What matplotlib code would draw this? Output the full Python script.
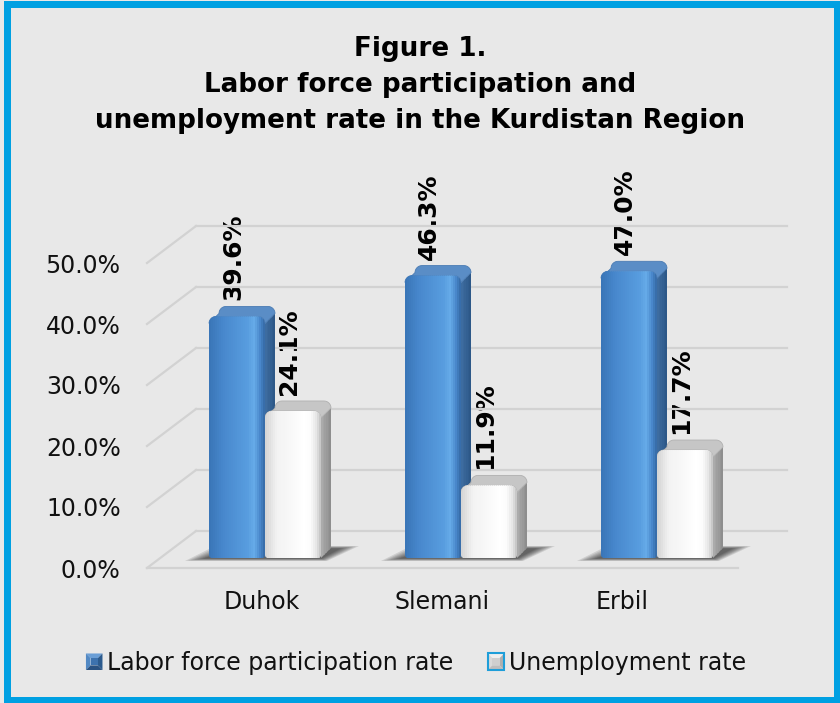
import numpy as np
import matplotlib
matplotlib.use("Agg")
import matplotlib.pyplot as plt
from matplotlib.patches import Polygon, Rectangle, Patch
from matplotlib.lines import Line2D
from matplotlib.transforms import IdentityTransform
from matplotlib.legend_handler import HandlerBase
from matplotlib.colors import to_rgb

# ---- data ----
regions = ["Duhok", "Slemani", "Erbil"]
participation = [39.6, 46.3, 47.0]
unemployment = [24.1, 11.9, 17.7]
series_names = ["Labor force participation rate", "Unemployment rate"]
y_ticks = [0, 10, 20, 30, 40, 50]
title_lines = ["Figure 1.",
               "Labor force participation and",
               "unemployment rate in the Kurdistan Region"]

# ---- canvas ----
W, H, DPI = 840, 703, 100
BG = "#E8E8E8"
fig = plt.figure(figsize=(W / DPI, H / DPI), dpi=DPI)
fig.patch.set_facecolor(BG)

# plot area: front floor edge spans 147..738 px at y=568, 6.1 px per percent
PX_GROUP = 196.0
PX_PCT = 6.1
FL, FR, FLOOR = 147, 738, 568
YMAX = 56
ax = fig.add_axes([FL / W, (H - FLOOR) / H, (FR - FL) / W, YMAX * PX_PCT / H])
xmin = -(265 - FL) / PX_GROUP
ax.set_xlim(xmin, xmin + (FR - FL) / PX_GROUP)
ax.set_ylim(0, YMAX)
ax.patch.set_visible(False)
for s in ax.spines.values():
    s.set_visible(False)
ax.set_xticks([])
ax.set_yticks(y_ticks)
ax.set_yticklabels([f"{v:.1f}%" for v in y_ticks], fontsize=17, color="#111111")
ax.tick_params(axis="y", length=0, pad=19)

ID = IdentityTransform()
T = ax.transData


def disp(x, y):
    return T.transform((x, y))


# ---- walls: back wall gridlines + side diagonals + front floor edge ----
WALL_DX, WALL_DY = 49, 37
GRID = "#D2D2D2"
xa, xb = ax.get_xlim()
for v in y_ticks:
    p0 = disp(xa, v)
    p1 = disp(xb, v)
    fig.add_artist(Line2D([p0[0] + WALL_DX, p1[0] + WALL_DX],
                          [p0[1] + WALL_DY, p0[1] + WALL_DY],
                          transform=ID, color=GRID, lw=1.6, zorder=1))
    fig.add_artist(Line2D([p0[0], p0[0] + WALL_DX], [p0[1], p0[1] + WALL_DY],
                          transform=ID, color=GRID, lw=1.6, zorder=1))
p0, p1 = disp(xa, 0), disp(xb, 0)
fig.add_artist(Line2D([p0[0], p1[0]], [p0[1], p0[1]], transform=ID,
                      color=GRID, lw=1.6, zorder=1))

# ---- 3D bars ----
BAR_W = 56 / PX_GROUP
LIFT = 10       # bar plane sits above the front floor edge
DEPTH = 10      # bar depth offset (right, up)
RAD = 7         # rounded shoulder radius


def arc(cx, cy, r, a0, a1, n=10):
    t = np.radians(np.linspace(a0, a1, n))
    return list(zip(cx + r * np.cos(t), cy + r * np.sin(t)))


def blend(stops, n):
    pos = np.array([s[0] for s in stops])
    cols = np.array([to_rgb(s[1]) for s in stops])
    u = np.linspace(0, 1, n)
    return np.stack([np.interp(u, pos, cols[:, k]) for k in range(3)], axis=1)


SCHEMES = {
    "blue": dict(front=[(0, "#3A76B8"), (0.25, "#4888CD"), (0.7, "#589DDF"),
                        (0.82, "#66ABE8"), (0.93, "#4886CA"), (1, "#386EAB")],
                 side=[(0, "#3D6CA0"), (1, "#2D5888")],
                 top="#5A8DC6", top_edge="#4A7BB3"),
    "white": dict(front=[(0, "#D6D6D6"), (0.2, "#F2F2F2"), (0.7, "#FFFFFF"),
                         (0.82, "#FCFCFC"), (0.94, "#E4E4E4"), (1, "#C8C8C8")],
                  side=[(0, "#ABABAB"), (1, "#8E8E8E")],
                  top="#C6C6C6", top_edge="#B0B0B0"),
}


def draw_shadow(xl, xr):
    X0, Yb = disp(xl, 0)
    X1, _ = disp(xr, 0)
    Yb += LIFT
    for k in range(7):
        g = 3 * k
        pts = [(X0 - 24 + g, Yb - 3 + 0.4 * k), (X1 + 6 - g * 0.3, Yb - 3 + 0.4 * k),
               (X1 + DEPTH + 28 - g, Yb + DEPTH + 2 - 0.4 * k),
               (X0 + DEPTH - 4 + g, Yb + DEPTH + 2 - 0.4 * k)]
        fig.add_artist(Polygon(pts, closed=True, transform=ID, facecolor="black",
                               edgecolor="none", alpha=0.11, zorder=2))


def draw_bar(xl, xr, v, scheme):
    sc = SCHEMES[scheme]
    X0, Yb = disp(xl, 0)
    X1, Yt = disp(xr, v)
    Yb += LIFT
    Yt += LIFT
    d, r = DEPTH, RAD
    # side face
    side = [(X1, Yb), (X1, Yt - r), (X1 + d, Yt + d - r), (X1 + d, Yb + d)]
    side_patch = Polygon(side, closed=True, transform=ID, facecolor="none",
                         edgecolor="none", zorder=3)
    fig.add_artist(side_patch)
    cols = blend(sc["side"], 6)
    for k in range(6):
        strip = Rectangle((X1 + k * d / 6, Yb - 2), d / 6 + 0.6, Yt - Yb + d + 4,
                          transform=ID, facecolor=cols[k], edgecolor="none", zorder=3)
        strip.set_clip_path(side_patch)
        fig.add_artist(strip)
    # top cap with rounded shoulders
    cap = (arc(X0 + r, Yt - r, r, 180, 90) + arc(X1 - r, Yt - r, r, 90, 0)
           + arc(X1 + d - r, Yt + d - r, r, 0, 90)
           + arc(X0 + d + r, Yt + d - r, r, 90, 180))
    fig.add_artist(Polygon(cap, closed=True, transform=ID, facecolor=sc["top"],
                           edgecolor=sc["top_edge"], lw=0.6, zorder=4))
    # front face with gradient
    front = ([(X0, Yb + 2)] + arc(X0 + r, Yt - r, r, 180, 90)
             + arc(X1 - r, Yt - r, r, 90, 0) + [(X1, Yb + 2)]
             + arc(X1 - 3, Yb + 3, 3, 0, -90) + arc(X0 + 3, Yb + 3, 3, -90, -180))
    fpatch = Polygon(front, closed=True, transform=ID, facecolor="none",
                     edgecolor="none", zorder=5)
    fig.add_artist(fpatch)
    n = 28
    cols = blend(sc["front"], n)
    wstrip = (X1 - X0) / n
    for k in range(n):
        strip = Rectangle((X0 + k * wstrip, Yb - 2), wstrip + 0.6, Yt - Yb + 4,
                          transform=ID, facecolor=cols[k], edgecolor="none", zorder=5)
        strip.set_clip_path(fpatch)
        fig.add_artist(strip)


LABEL_FONT = "DejaVu Sans"
for i in range(len(regions)):
    draw_shadow(i - BAR_W, i + BAR_W)
    for xl, xr, v, sc in [(i - BAR_W, i, participation[i], "blue"),
                          (i, i + BAR_W, unemployment[i], "white")]:
        draw_bar(xl, xr, v, sc)
        ax.annotate(f"{v:.1f}%", xy=((xl + xr) / 2, v), xytext=(-4, LIFT + 16),
                    textcoords="offset pixels", rotation=90, ha="center",
                    va="bottom", fontsize=18, fontweight="bold",
                    family=LABEL_FONT, color="black", annotation_clip=False,
                    zorder=10)

# ---- category labels (foreshortened row below the floor) ----
for i, name in enumerate(regions):
    gx = disp(i, 0)[0]
    lx = FL + (gx - FL) * 0.92 + 6
    fig.text(lx / W, (H - 602) / H, name, ha="center", va="center",
             fontsize=17, color="#111111")

# ---- title ----
for line, base in zip(title_lines, [56, 92, 128]):
    fig.text(0.5, (H - base) / H, line, ha="center", va="baseline",
             fontsize=18.8, fontweight="bold", family="DejaVu Sans", color="black")


# ---- legend with bevelled swatches ----
class BevelSwatch(HandlerBase):
    def __init__(self, top, left, right, bottom, center, edge=None):
        super().__init__()
        self.c = (top, left, right, bottom, center)
        self.edge = edge

    def create_artists(self, legend, orig_handle, xdescent, ydescent,
                       width, height, fontsize, trans):
        s = min(width, height)
        x0 = -xdescent + (width - s) / 2
        y0 = -ydescent + (height - s) / 2
        x1, y1 = x0 + s, y0 + s
        b = s * 0.28
        ix0, iy0, ix1, iy1 = x0 + b, y0 + b, x1 - b, y1 - b
        top, left, right, bottom, center = self.c
        arts = [
            Polygon([(x0, y1), (x1, y1), (ix1, iy1), (ix0, iy1)], facecolor=top),
            Polygon([(x0, y0), (x0, y1), (ix0, iy1), (ix0, iy0)], facecolor=left),
            Polygon([(x1, y0), (x1, y1), (ix1, iy1), (ix1, iy0)], facecolor=right),
            Polygon([(x0, y0), (x1, y0), (ix1, iy0), (ix0, iy0)], facecolor=bottom),
            Polygon([(ix0, iy0), (ix1, iy0), (ix1, iy1), (ix0, iy1)], facecolor=center),
        ]
        for a in arts:
            a.set_edgecolor("none")
            a.set_transform(trans)
        if self.edge is not None:
            fr = Rectangle((x0, y0), s, s, facecolor="none", edgecolor=self.edge,
                           lw=1.5, transform=trans)
            arts.append(fr)
        return arts


h_blue, h_white = Patch(), Patch()
fig.legend([h_blue, h_white], series_names, loc="center",
           bbox_to_anchor=(416 / W, (H - 663) / H), ncol=2, frameon=False,
           fontsize=17, handlelength=0.7, handleheight=0.7, handletextpad=0.2,
           columnspacing=1.45, labelcolor="#111111",
           handler_map={
               h_blue: BevelSwatch("#6A9ED6", "#5289C4", "#2C5B8E", "#2A5282", "#3D72AE"),
               h_white: BevelSwatch("#EFEFEF", "#DADADA", "#AFAFAF", "#BDBDBD",
                                    "#CFCFCF", edge="#1E9ED9"),
           })

# ---- outer frame ----
fig.add_artist(Rectangle((6.5 / W, 3.5 / H), (W - 10) / W, (H - 7.5) / H,
                         transform=fig.transFigure, fill=False,
                         edgecolor="#00A0E2", lw=7 * 72 / DPI, zorder=20))

fig.savefig("out.png", dpi=DPI, facecolor=BG)
